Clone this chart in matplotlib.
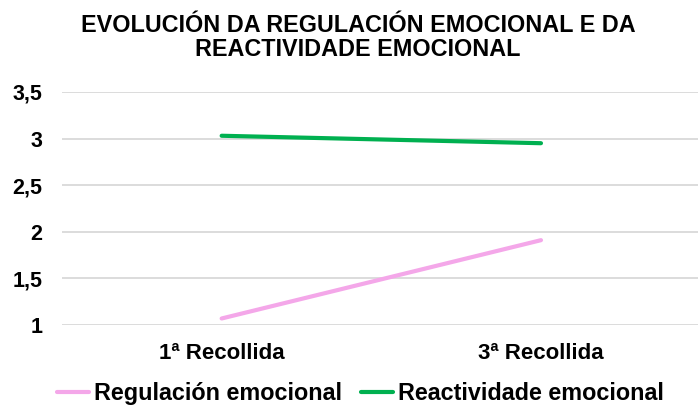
import matplotlib
matplotlib.use('Agg')
import matplotlib.pyplot as plt

plt.rcParams['font.family'] = ['Liberation Sans', 'DejaVu Sans']
plt.rcParams['font.weight'] = 'bold'

# data
categories = ['1ª Recollida', '3ª Recollida']
regulacion = [1.07, 1.91]
reactividade = [3.03, 2.95]
y_ticks = [1, 1.5, 2, 2.5, 3, 3.5]
y_labels = ['1', '1,5', '2', '2,5', '3', '3,5']

fig = plt.figure(figsize=(6.98, 4.05), dpi=100)
ax = fig.add_axes([0.0888, 0.1975, 0.915, 0.5755])

x = list(range(len(categories)))
ax.plot(x, regulacion, color='#F4A7E9', lw=3, solid_capstyle='round', label='Regulación emocional')
ax.plot(x, reactividade, color='#00B050', lw=3, solid_capstyle='round', label='Reactividade emocional')

ax.set_xlim(-0.5, 1.5)
ax.set_ylim(1, 3.5)
ax.set_yticks(y_ticks)
ax.set_yticklabels(y_labels, fontsize=15.5, fontweight='bold')
ax.set_xticks(x)
ax.set_xticklabels(categories, fontsize=16, fontweight='bold')
ax.tick_params(length=0)
ax.tick_params(axis='x', pad=13)
ax.tick_params(axis='y', pad=14)
ax.yaxis.grid(True, color='#D9D9D9', lw=1.3)
ax.set_axisbelow(True)
for s in ax.spines.values():
    s.set_visible(False)

# title, two lines
fig.text(0.513, 0.922, 'EVOLUCIÓN DA REGULACIÓN EMOCIONAL E DA',
         ha='center', va='baseline', fontsize=16.8, fontweight='bold')
fig.text(0.513, 0.862, 'REACTIVIDADE EMOCIONAL',
         ha='center', va='baseline', fontsize=16.8, fontweight='bold')

fig.legend(loc='center', bbox_to_anchor=(0.516, 0.028), ncol=2, frameon=False,
           prop={'size': 16.8, 'weight': 'bold'}, handlelength=1.4, handletextpad=0.2,
           columnspacing=0.8, borderpad=0, borderaxespad=0)

fig.savefig('out.png', dpi=100)
